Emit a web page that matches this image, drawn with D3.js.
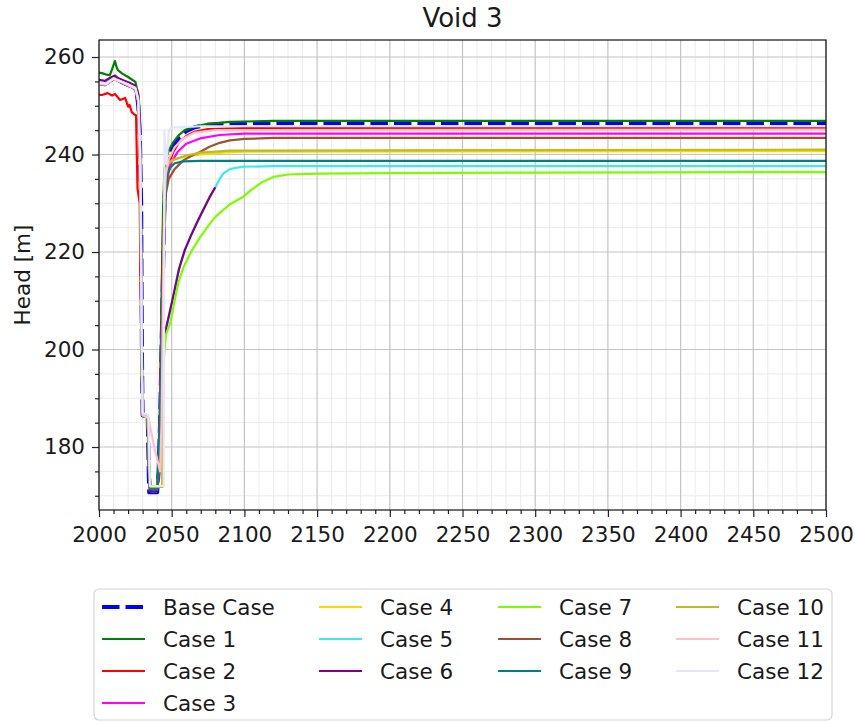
<!DOCTYPE html>
<html><head><meta charset="utf-8">
<script src="https://cdn.jsdelivr.net/npm/d3@7/dist/d3.min.js"></script>
<style>
body{margin:0;background:#fff}
svg{display:block}
text{font-family:"DejaVu Sans",sans-serif;fill:#1a1a1a}
</style>
</head><body>
<svg id="chart" width="855" height="723"></svg>
<script>
// ---------- data ----------
const titleText = "Void 3";
const yLabel = "Head [m]";
const xMajorTicks = [2000,2050,2100,2150,2200,2250,2300,2350,2400,2450,2500];
const yMajorTicks = [180,200,220,240,260];

const seriesNames = ["Base Case","Case 1","Case 2","Case 3","Case 4","Case 5","Case 6","Case 7","Case 8","Case 9","Case 10","Case 11","Case 12"];
const seriesColors = ["#0000ff","#008000","#ff0000","#ff00ff","#ffd700","#40e8e8","#800080","#7cfc00","#a0522d","#008080","#bcbd22","#ffc0cb","#e6e6fa"];

const baseCase = [[2000,254.6],[2004,254.4],[2008,255.2],[2011,255.8],[2013,255.3],[2016,254.8],[2020,254.3],[2024,253.8],[2026,252.5],[2027,250],[2028,245],[2029,230],[2029.5,200],[2030,186.5],[2033.5,186.2],[2034,178],[2034.5,170.7],[2040,170.7],[2041,175],[2042,185],[2043,200],[2044,215],[2045,230],[2046,237.5],[2048,240],[2051,241.8],[2055,243.5],[2060,244.8],[2066,245.6],[2075,246.1],[2090,246.4],[2500,246.4]];
const case1 = [[2000,256.8],[2002,256.7],[2005,256.4],[2007.5,256.3],[2009,257.5],[2011,259.2],[2012,258],[2013,257.3],[2016,256.6],[2020,255.9],[2025,254.9],[2026.5,253],[2027.5,251],[2028.5,240],[2029.5,200],[2030,187],[2033.5,186.5],[2034,178],[2035,171.5],[2040,171.5],[2041,176],[2042,190],[2043,210],[2044,228],[2045,237],[2046,239],[2048,240.8],[2051,242.5],[2055,244],[2059,245],[2066,245.8],[2075,246.3],[2090,246.7],[2120,246.9],[2500,246.9]];
const case2 = [[2000,252.3],[2002,252.2],[2006,252.6],[2009,252.1],[2011,252.4],[2014.5,251.2],[2018,251.6],[2020,249.8],[2021,250.2],[2022.5,248.7],[2024,248.3],[2025.5,248],[2026,240],[2026.5,233],[2028,230],[2028.5,215],[2029.5,195],[2030,186.5],[2033.5,186],[2034,178],[2035,171.2],[2040,171.2],[2041,176],[2042,188],[2043,205],[2044,222],[2045,230],[2046,234],[2048,238],[2051,240.5],[2055,242.5],[2060,243.8],[2066,244.7],[2075,245.2],[2100,245.4],[2500,245.4]];
const case3 = [[2000,254.5],[2004,254.3],[2008,255],[2011,255.6],[2013,255.1],[2016,254.6],[2020,254.1],[2024,253.6],[2026,252.3],[2027.5,249],[2028.5,235],[2029.5,195],[2030,186.5],[2033.5,186],[2034,178],[2035,171.3],[2040,171.3],[2041,175],[2042,186],[2043,200],[2044,215],[2045,228],[2046,233],[2048,236.5],[2050,238.5],[2054,240.5],[2060,242.2],[2069.5,243.3],[2083,244],[2100,244.3],[2500,244.3]];
const case4 = [[2000,254.5],[2005,254.4],[2010,255.5],[2015,254.9],[2020,254.2],[2025,253.5],[2027,251],[2028.5,235],[2029.5,195],[2030,186.5],[2033.5,186],[2034.5,176],[2035.5,171.8],[2043.5,171.8],[2044,190],[2044.5,220],[2045,234],[2046,237],[2048,238.3],[2052,239],[2060,239.6],[2070,240],[2085,240.4],[2100,240.6],[2500,240.7]];
const case5 = [[2000,255.2],[2004,255],[2008,255.7],[2011,256.1],[2013,255.6],[2017,255.1],[2021,254.6],[2025,254],[2027,252.4],[2028,248],[2029,225],[2029.7,190],[2030.5,186.3],[2033.5,186],[2034.2,176],[2035,171],[2039,170.8],[2041,173],[2042,180],[2043,192],[2044,200],[2045,203],[2047,205.5],[2050,209.5],[2052,212.2],[2055,216.5],[2059,220.4],[2063,223.2],[2067,225.8],[2072,228.8],[2076,231.2],[2080,233.3],[2083,235],[2085.5,236.1],[2090,237],[2095,237.3],[2100,237.5],[2120,237.6],[2500,237.6]];
const case6 = [[2000,255.3],[2004,255.1],[2008,255.8],[2011,256.2],[2013,255.7],[2017,255.2],[2021,254.7],[2025,254.1],[2027,252.5],[2028,248],[2029,225],[2029.7,190],[2030.5,186.3],[2033.5,186],[2034.2,176],[2035,171],[2039,170.8],[2041,173],[2042,180],[2043,192],[2044,200],[2045,203],[2047,205.5],[2050,209.5],[2052,212.2],[2055,216.5],[2059,220.4],[2063,223.2],[2067,225.8],[2072,228.8],[2076,231.2],[2080,233.3]];
const case7 = [[2000,254.6],[2005,254.5],[2010,255.6],[2015,255],[2020,254.3],[2025,253.6],[2027,251],[2028.5,235],[2029.5,195],[2030,186.5],[2033.5,186],[2034.5,176],[2035.5,171.5],[2040,171.5],[2042,180],[2044,196],[2046,203],[2049,205.4],[2052,210],[2054.5,213.6],[2058,216.8],[2064,220.4],[2069.5,223],[2075,225.3],[2080,227.2],[2090,229.8],[2099,231.3],[2105,232.8],[2112,234.3],[2120,235.4],[2130,235.9],[2150,236.1],[2200,236.2],[2300,236.3],[2500,236.4]];
const case8 = [[2000,254.5],[2005,254.4],[2010,255.5],[2015,254.9],[2020,254.2],[2025,253.5],[2027,251],[2028.5,235],[2029.5,195],[2030,186.5],[2033.5,186],[2034.5,176],[2035.5,171.4],[2040,171.4],[2041,175],[2042,186],[2043,200],[2044,214],[2045,225],[2046,232],[2048,235],[2052,237],[2058,238.8],[2064,239.8],[2069.5,240.5],[2076,241.6],[2083,242.4],[2090,242.9],[2100,243.2],[2120,243.4],[2500,243.4]];
const case9 = [[2000,254.5],[2005,254.4],[2010,255.5],[2015,254.9],[2020,254.2],[2025,253.5],[2027,251],[2028.5,235],[2029.5,195],[2030,186.5],[2033.5,186],[2034.5,176],[2035.5,171.3],[2040,171.3],[2042,185],[2044,215],[2045,228],[2046,233],[2047,236],[2049,237.3],[2052,238.2],[2058,238.6],[2070,238.7],[2500,238.7]];
const case10 = [[2000,254.5],[2005,254.4],[2010,255.5],[2015,254.9],[2020,254.2],[2025,253.5],[2027,251],[2028.5,235],[2029.5,195],[2030,186.5],[2033.5,186],[2034.5,176],[2035.5,171.8],[2043.5,171.8],[2044,195],[2044.7,228],[2045.3,235.5],[2047,237.8],[2050,238.8],[2060,239.8],[2070,240.4],[2090,240.8],[2500,241]];
const case11 = [[2000,254.5],[2005,254.4],[2010,255.5],[2015,254.9],[2020,254.2],[2025,253.5],[2027,251],[2028.5,235],[2029.5,195],[2030,186.5],[2034,186],[2038,180],[2042,175],[2043,185],[2044,210],[2045,230],[2046,236],[2048,239],[2052,241.5],[2058,243.3],[2066,244.5],[2080,245],[2500,245.1]];
const case12 = [[2000,254.8],[2005,254.6],[2010,255.6],[2015,255],[2020,254.4],[2025,253.7],[2027,251.5],[2028.5,240],[2029.5,200],[2030,187],[2034,186.5],[2035,172],[2044.5,172],[2045,245],[2046.5,238],[2048,245],[2050,245.5],[2070,245.8],[2500,245.8]];

const seriesData = [baseCase,case1,case2,case3,case4,case5,case6,case7,case8,case9,case10,case11,case12];

// ---------- layout ----------
const svg = d3.select("#chart");
const L = 99, R = 826, T = 40, B = 510;
const x = d3.scaleLinear().domain([2000,2500]).range([L,R]);
const y = d3.scaleLinear().domain([167.08,263.49]).range([B,T]);

const xMinor = d3.range(2000,2501,10).filter(v=>v%50!==0);
const yMinor = d3.range(170,264,5).filter(v=>v%20!==0);

// grid
const g = svg.append("g");
g.selectAll(".gxm").data(xMinor).join("line")
 .attr("x1",d=>x(d)).attr("x2",d=>x(d)).attr("y1",T).attr("y2",B)
 .attr("stroke","#ebebeb").attr("stroke-width",1);
g.selectAll(".gym").data(yMinor).join("line")
 .attr("y1",d=>y(d)).attr("y2",d=>y(d)).attr("x1",L).attr("x2",R)
 .attr("stroke","#ebebeb").attr("stroke-width",1);
g.selectAll(".gxM").data(xMajorTicks).join("line")
 .attr("x1",d=>x(d)).attr("x2",d=>x(d)).attr("y1",T).attr("y2",B)
 .attr("stroke","#c4c4c4").attr("stroke-width",1.2);
g.selectAll(".gyM").data(yMajorTicks).join("line")
 .attr("y1",d=>y(d)).attr("y2",d=>y(d)).attr("x1",L).attr("x2",R)
 .attr("stroke","#c4c4c4").attr("stroke-width",1.2);

// clip
svg.append("clipPath").attr("id","clip").append("rect")
 .attr("x",L).attr("y",T).attr("width",R-L).attr("height",B-T);

const line = d3.line().x(d=>x(d[0])).y(d=>y(d[1]));
const lines = svg.append("g").attr("clip-path","url(#clip)");
seriesData.forEach((s,i)=>{
  const p = lines.append("path").datum(s).attr("d",line)
    .attr("fill","none").attr("stroke",seriesColors[i])
    .attr("stroke-linejoin","round");
  if(i===0){ p.attr("stroke-width",4).attr("stroke-dasharray","17.5,6"); }
  else { p.attr("stroke-width",2.2); }
});

// axes
const fs = "21.5px";
svg.append("g").attr("transform",`translate(0,${B})`)
 .call(d3.axisBottom(x).tickValues(xMajorTicks).tickFormat(d3.format("d")).tickSize(7).tickPadding(10));
svg.append("g").attr("transform",`translate(0,${B})`)
 .call(d3.axisBottom(x).tickValues(xMinor).tickFormat("").tickSize(4));
svg.append("g").attr("transform",`translate(${L},0)`)
 .call(d3.axisLeft(y).tickValues(yMajorTicks).tickFormat(d3.format("d")).tickSize(7).tickPadding(7));
svg.append("g").attr("transform",`translate(${L},0)`)
 .call(d3.axisLeft(y).tickValues(yMinor).tickFormat("").tickSize(4));
svg.selectAll(".domain").remove();
svg.selectAll(".tick line").attr("stroke","#222").attr("stroke-width",1.2);
svg.selectAll(".tick text").style("font-size",fs).style("font-family","DejaVu Sans").attr("fill","#1a1a1a");

// frame
svg.append("rect").attr("x",L).attr("y",T).attr("width",R-L).attr("height",B-T)
 .attr("fill","none").attr("stroke","#111").attr("stroke-width",1.2);

// title & labels
svg.append("text").attr("x",(L+R)/2).attr("y",27).attr("text-anchor","middle")
 .style("font-size","26px").text(titleText);
svg.append("text").attr("transform",`translate(30,${(T+B)/2}) rotate(-90)`)
 .attr("text-anchor","middle").style("font-size",fs).text(yLabel);

// legend
const lg = svg.append("g");
lg.append("rect").attr("x",94).attr("y",589).attr("width",738).attr("height",131)
 .attr("rx",5).attr("fill","#fff").attr("stroke","#d4d4d4").attr("stroke-width",1.2);
const colX = [102,319,498,676];
const rowY = [607,639,671,703];
const perCol = [4,3,3,3];
let idx = 0;
perCol.forEach((n,c)=>{
  for(let r=0;r<n;r++){
    const i = idx++;
    const yy = rowY[r];
    const h = lg.append("line").attr("x1",colX[c]).attr("x2",colX[c]+43)
      .attr("y1",yy).attr("y2",yy).attr("stroke",seriesColors[i]);
    if(i===0) h.attr("stroke-width",4).attr("stroke-dasharray","17.5,6");
    else h.attr("stroke-width",2.2);
    lg.append("text").attr("x",colX[c]+61).attr("y",yy+7.5)
      .style("font-size",fs).text(seriesNames[i]);
  }
});
</script>
</body></html>
